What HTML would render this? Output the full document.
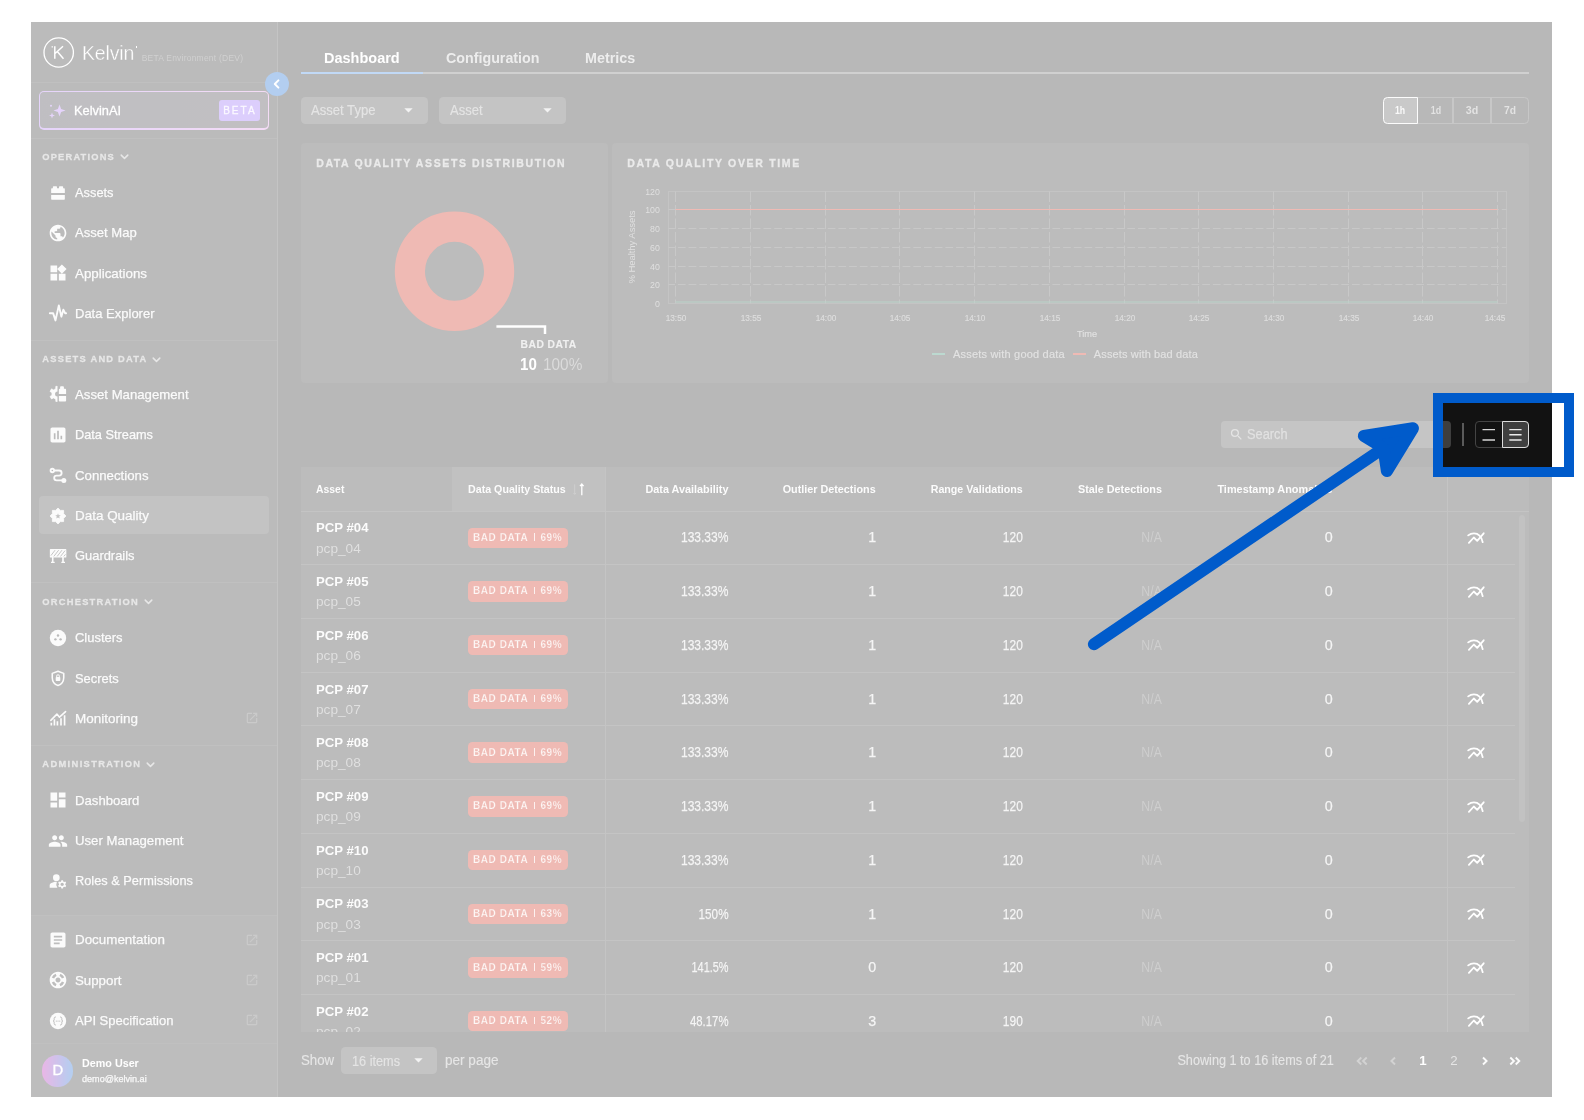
<!DOCTYPE html>
<html><head><meta charset="utf-8"><title>Data Quality</title>
<style>
html,body{margin:0;padding:0;background:#fff;}
body{width:1584px;height:1120px;position:relative;overflow:hidden;font-family:"Liberation Sans",sans-serif;}
#app{will-change:transform;position:absolute;left:0;top:0;width:1584px;height:1120px;clip-path:inset(22px 32px 23px 31px);background:#121212;}
.a{position:absolute;box-sizing:border-box;}
.t{position:absolute;white-space:nowrap;}
.ov{position:absolute;background:rgba(255,255,255,0.7);}
</style></head><body>
<div id="app">
<div class="a" style="left:31.00px;top:22.00px;width:246.50px;height:1075.00px;background:#1b1b1b;"></div>
<div class="a" style="left:276.80px;top:22.00px;width:1.00px;height:1075.00px;background:#393939;"></div>
<svg class="a" style="left:42px;top:36px" width="34" height="34" viewBox="0 0 34 34"><circle cx="16.700" cy="16.500" r="14.700" fill="none" stroke="#fff" stroke-width="1.300"/><path d="M12.800 10.300v12.500M12.800 17.800l8.200-7.500M15.300 15.600l6.200 7.200" fill="none" stroke="#fff" stroke-width="1.500"/><rect x="9.600" y="10.200" width="1.300" height="1.300" fill="#fff"/></svg>
<div class="t" style="top:38.20px;font-size:21px;line-height:29px;color:#fff;letter-spacing:-0.200px;left:82.30px;transform:scaleX(0.93);transform-origin:0 50%;-webkit-text-stroke:0.4px #1b1b1b;">Kelvin</div>
<div class="a" style="left:135.50px;top:46.40px;width:1.00px;height:1.20px;background:#fff;"></div>
<div class="t" style="top:51.50px;font-size:8.5px;line-height:12px;color:#666;letter-spacing:0.220px;left:141.70px;">BETA Environment (DEV)</div>
<div class="a" style="left:31.00px;top:82.00px;width:246.00px;height:1.00px;background:#2c2c2c;"></div>
<div class="a" style="left:38.50px;top:91.00px;width:230.50px;height:38.50px;border-radius:5px;background:linear-gradient(90deg,#a970f0,#d98ae0);"></div>
<div class="a" style="left:39.70px;top:92.20px;width:228.10px;height:36.10px;border-radius:4px;background:linear-gradient(100deg,#2b2734,#302a33);"></div>
<svg class="a" style="left:48px;top:102px" width="18" height="18" viewBox="0 0 18 18" fill="#a970f0"><path d="M11.500 2.500l1.600 4.400 4.400 1.600-4.400 1.600-1.600 4.400-1.600-4.400L5.500 8.500l4.400-1.600z"/><path d="M4 10.500l.800 2.200 2.200.800-2.200.800L4 16.500l-.800-2.200L1 13.500l2.200-.800z"/><circle cx="3" cy="3.800" r="1"/></svg>
<div class="t" style="top:100.80px;font-size:13.5px;line-height:19px;color:#fff;left:74.30px;transform-origin:0 50%;transform:scaleX(0.9489);-webkit-text-stroke:0.300px #fff;">KelvinAI</div>
<div class="a" style="left:219.20px;top:100.00px;width:40.40px;height:20.70px;background:#8b5cf6;border-radius:3px;"></div>
<div class="t" style="top:104.00px;font-size:10px;line-height:14px;color:#f1e9ff;letter-spacing:2.036px;left:239.92px;transform:translateX(-50%);-webkit-text-stroke:0.3px #f1e9ff;">BETA</div>
<div class="a" style="left:31.00px;top:137.50px;width:246.00px;height:1.00px;background:#2c2c2c;"></div>
<div class="a" style="left:265.00px;top:71.50px;width:24.00px;height:24.00px;background:#005bcb;border-radius:12px;"></div>
<svg class="a" style="left:271px;top:77.6px" width="12" height="12" viewBox="0 0 12 12"><path d="M7.4 2.4L3.8 6l3.600 3.600" fill="none" stroke="#fff" stroke-width="2" stroke-linecap="round" stroke-linejoin="round"/></svg>
<div class="t" style="top:150.50px;font-size:9.3px;line-height:13px;color:#b0b0b0;font-weight:700;letter-spacing:1.191px;left:42.30px;-webkit-text-stroke:0.3px #b0b0b0;">OPERATIONS</div>
<svg class="a" style="left:119.8px;top:153.1px" width="9" height="8" viewBox="0 0 9 8"><path d="M1.2 2.1l3.3 3.3 3.3-3.3" fill="none" stroke="#b0b0b0" stroke-width="1.5" stroke-linecap="round" stroke-linejoin="round"/></svg>
<svg class="a" style="left:47.90px;top:182.70px;color:#f2f2f2;" width="20" height="20" viewBox="0 0 24 24" fill="currentColor"><g transform="translate(12 12) scale(0.82) translate(-12 -12)"><path d="M2 14.8h20V20.800a1 1 0 0 1-1 1H3a1 1 0 0 1-1-1zM2 12V6.200a1 1 0 0 1 1-1h1.500V3a1 1 0 0 1 1-1h4a1 1 0 0 1 1 1v2.200h3V3a1 1 0 0 1 1-1h4a1 1 0 0 1 1 1v2.200H21a1 1 0 0 1 1 1V12z"/></g></svg>
<div class="t" style="top:182.80px;font-size:13.6px;line-height:19px;color:#f0f0f0;left:75.20px;transform-origin:0 50%;transform:scaleX(0.9437);-webkit-text-stroke:0.250px #f0f0f0;">Assets</div>
<svg class="a" style="left:47.90px;top:222.90px;color:#f2f2f2;" width="20" height="20" viewBox="0 0 24 24" fill="currentColor"><path d="M12 2C6.48 2 2 6.48 2 12s4.48 10 10 10 10-4.48 10-10S17.52 2 12 2zm-1 17.93c-3.95-.49-7-3.85-7-7.93 0-.62.08-1.21.21-1.79L9 15v1c0 1.1.9 2 2 2v1.93zm6.9-2.54c-.26-.81-1-1.39-1.9-1.39h-1v-3c0-.55-.45-1-1-1H8v-2h2c.55 0 1-.45 1-1V7h2c1.1 0 2-.9 2-2v-.41c2.93 1.19 5 4.06 5 7.41 0 2.08-.8 3.97-2.1 5.39z"/></svg>
<div class="t" style="top:223.00px;font-size:13.6px;line-height:19px;color:#f0f0f0;left:75.20px;transform-origin:0 50%;transform:scaleX(0.9623);-webkit-text-stroke:0.250px #f0f0f0;">Asset Map</div>
<svg class="a" style="left:47.90px;top:263.40px;color:#f2f2f2;" width="20" height="20" viewBox="0 0 24 24" fill="currentColor"><path d="M13 13v8h8v-8h-8zM3 21h8v-8H3v8zM3 3v8h8V3H3zm13.66-1.31L11 7.34 16.66 13l5.66-5.66-5.66-5.65z"/></svg>
<div class="t" style="top:263.50px;font-size:13.6px;line-height:19px;color:#f0f0f0;left:75.20px;transform-origin:0 50%;transform:scaleX(0.9821);-webkit-text-stroke:0.250px #f0f0f0;">Applications</div>
<svg class="a" style="left:47.90px;top:303.60px;color:#f2f2f2;" width="20" height="20" viewBox="0 0 24 24" fill="currentColor"><path d="M2.2 11H6.1L9 19.7L13 1.7L16 15.2L18.4 6.8L20.5 11H21.7" fill="none" stroke="currentColor" stroke-width="2.3" stroke-linejoin="round" stroke-linecap="round"/></svg>
<div class="t" style="top:303.70px;font-size:13.6px;line-height:19px;color:#f0f0f0;left:75.20px;transform-origin:0 50%;transform:scaleX(0.9566);-webkit-text-stroke:0.250px #f0f0f0;">Data Explorer</div>
<div class="a" style="left:31.00px;top:339.60px;width:246.00px;height:1.00px;background:#2c2c2c;"></div>
<div class="t" style="top:353.00px;font-size:9.3px;line-height:13px;color:#b0b0b0;font-weight:700;letter-spacing:1.242px;left:42.30px;-webkit-text-stroke:0.3px #b0b0b0;">ASSETS AND DATA</div>
<svg class="a" style="left:152.3px;top:355.6px" width="9" height="8" viewBox="0 0 9 8"><path d="M1.2 2.1l3.3 3.3 3.3-3.3" fill="none" stroke="#b0b0b0" stroke-width="1.5" stroke-linecap="round" stroke-linejoin="round"/></svg>
<svg class="a" style="left:47.90px;top:384.80px;color:#f2f2f2;" width="20" height="20" viewBox="0 0 24 24" fill="currentColor"><path d="M10.96 1.44L10.96 1.61L9.40 1.61L9.23 4.37L6.66 5.85L4.19 4.62L2.42 7.67L4.73 9.20L4.73 12.16L2.42 13.69L4.19 16.74L6.66 15.51L9.23 16.99L9.40 19.75L10.96 19.75L10.96 19.92Z" stroke="currentColor" stroke-width="0.800" stroke-linejoin="round"/><circle cx="11.46" cy="10.68" r="3" fill="#1b1b1b"/><path d="M14.52 4.62V2.64a1 1 0 0 1 1-1H18.08a1 1 0 0 1 1 1V4.62H20.72a1 1 0 0 1 1 1V10.92H13.02V5.62a1 1 0 0 1 1-1z"/><path d="M13.02 13.20H21.72V18.92a1 1 0 0 1-1 1H14.02a1 1 0 0 1-1-1z"/></svg>
<div class="t" style="top:384.90px;font-size:13.6px;line-height:19px;color:#f0f0f0;left:75.20px;transform-origin:0 50%;transform:scaleX(0.9699);-webkit-text-stroke:0.250px #f0f0f0;">Asset Management</div>
<svg class="a" style="left:47.90px;top:425.20px;color:#f2f2f2;" width="20" height="20" viewBox="0 0 24 24" fill="currentColor"><path d="M19 3H5c-1.1 0-2 .9-2 2v14c0 1.1.9 2 2 2h14c1.1 0 2-.9 2-2V5c0-1.1-.9-2-2-2zM9 17H7v-7h2v7zm4 0h-2V7h2v10zm4 0h-2v-4h2v4z"/></svg>
<div class="t" style="top:425.30px;font-size:13.6px;line-height:19px;color:#f0f0f0;left:75.20px;transform-origin:0 50%;transform:scaleX(0.9385);-webkit-text-stroke:0.250px #f0f0f0;">Data Streams</div>
<svg class="a" style="left:47.90px;top:465.60px;color:#f2f2f2;" width="20" height="20" viewBox="0 0 24 24" fill="currentColor"><g fill="none" stroke="currentColor" stroke-width="2.2" stroke-linecap="round"><circle cx="5.2" cy="5.4" r="2.1"/><path d="M8 5.4H13.3a3.050 3.050 0 0 1 0 6.1H10.3a2.850 2.850 0 0 0 0 5.7H17"/></g><circle cx="19" cy="17.3" r="3"/></svg>
<div class="t" style="top:465.70px;font-size:13.6px;line-height:19px;color:#f0f0f0;left:75.20px;transform-origin:0 50%;transform:scaleX(0.9725);-webkit-text-stroke:0.250px #f0f0f0;">Connections</div>
<div class="a" style="left:38.50px;top:496.40px;width:230.50px;height:38.00px;background:#363636;border-radius:4px;"></div>
<svg class="a" style="left:47.90px;top:505.80px;color:#f2f2f2;" width="20" height="20" viewBox="0 0 24 24" fill="currentColor"><path d="M12.00 2.50L14.79 5.26L18.72 5.28L18.74 9.21L21.50 12.00L18.74 14.79L18.72 18.72L14.79 18.74L12.00 21.50L9.21 18.74L5.28 18.72L5.26 14.79L2.50 12.00L5.26 9.21L5.28 5.28L9.21 5.26Z" stroke="currentColor" stroke-width="1" stroke-linejoin="round"/><path d="M12.00 8.70L12.88 10.99L15.33 11.12L13.43 12.66L14.06 15.03L12.00 13.70L9.94 15.03L10.57 12.66L8.67 11.12L11.12 10.99Z" fill="#363636"/></svg>
<div class="t" style="top:505.90px;font-size:13.6px;line-height:19px;color:#f0f0f0;left:75.20px;transform-origin:0 50%;transform:scaleX(0.9891);-webkit-text-stroke:0.250px #f0f0f0;">Data Quality</div>
<svg class="a" style="left:47.90px;top:546.00px;color:#f2f2f2;" width="20" height="20" viewBox="0 0 24 24" fill="currentColor"><path d="M3 3.700H21.2a.8.8 0 0 1 .8.8V13.100a.8.8 0 0 1-.8.8H3a.8.8 0 0 1-.8-.8V4.500a.8.8 0 0 1 .8-.8zM4.700 13.900H6.600V18.800H4.700zM17 13.900H19V18.800H17zM3.600 18.800H8V20.300H3.600zM16 18.800H20.400V20.300H16z"/><path d="M3.500 11.500l5-6.500M7 12.500l5.800-7.500M11 12.500l5.800-7.500M15 12.500l5.500-7M19 12.500l2-2.500" stroke="#1b1b1b" stroke-width="1" fill="none"/></svg>
<div class="t" style="top:546.10px;font-size:13.6px;line-height:19px;color:#f0f0f0;left:75.20px;transform-origin:0 50%;transform:scaleX(0.9487);-webkit-text-stroke:0.250px #f0f0f0;">Guardrails</div>
<div class="a" style="left:31.00px;top:582.20px;width:246.00px;height:1.00px;background:#2c2c2c;"></div>
<div class="t" style="top:595.70px;font-size:9.3px;line-height:13px;color:#b0b0b0;font-weight:700;letter-spacing:1.258px;left:42.30px;-webkit-text-stroke:0.3px #b0b0b0;">ORCHESTRATION</div>
<svg class="a" style="left:143.8px;top:598.3px" width="9" height="8" viewBox="0 0 9 8"><path d="M1.2 2.1l3.3 3.3 3.3-3.3" fill="none" stroke="#b0b0b0" stroke-width="1.5" stroke-linecap="round" stroke-linejoin="round"/></svg>
<svg class="a" style="left:47.90px;top:627.90px;color:#f2f2f2;" width="20" height="20" viewBox="0 0 24 24" fill="currentColor"><circle cx="12" cy="12" r="9.850"/><g fill="#1b1b1b"><circle cx="12" cy="8.900" r="1.450"/><circle cx="8.900" cy="13.600" r="1.450"/><circle cx="15.100" cy="13.600" r="1.450"/></g></svg>
<div class="t" style="top:628.00px;font-size:13.6px;line-height:19px;color:#f0f0f0;left:75.20px;transform-origin:0 50%;transform:scaleX(0.9527);-webkit-text-stroke:0.250px #f0f0f0;">Clusters</div>
<svg class="a" style="left:47.90px;top:668.40px;color:#f2f2f2;" width="20" height="20" viewBox="0 0 24 24" fill="currentColor"><g transform="translate(12 12.300) scale(0.860) translate(-12 -12)"><path d="M12 2.200L4 5.200v6.100c0 5 3.400 9.700 8 10.900 4.600-1.200 8-5.900 8-10.900V5.200z" fill="none" stroke="currentColor" stroke-width="2.200" stroke-linejoin="round"/><rect x="8.800" y="10.200" width="6.400" height="5.600" rx="1"/><path d="M10.200 10.500V9a1.800 1.800 0 0 1 3.600 0v1.500" fill="none" stroke="currentColor" stroke-width="1.400"/></g></svg>
<div class="t" style="top:668.50px;font-size:13.6px;line-height:19px;color:#f0f0f0;left:75.20px;transform-origin:0 50%;transform:scaleX(0.9481);-webkit-text-stroke:0.250px #f0f0f0;">Secrets</div>
<svg class="a" style="left:47.90px;top:708.70px;color:#f2f2f2;" width="20" height="20" viewBox="0 0 24 24" fill="currentColor"><path d="M3 16.600H5V19.700H3zM6.700 12.400H8.700V19.700H6.700zM10.300 14.800H12.300V19.700H10.300zM14.600 11.100H16.600V19.700H14.600zM18.900 7.400H20.900V19.700H18.900z"/><path d="M3.400 13.600L10.700 6.100L13.800 9.800L21.100 3.100" fill="none" stroke="currentColor" stroke-width="1.900" stroke-linecap="round" stroke-linejoin="round"/></svg>
<div class="t" style="top:708.80px;font-size:13.6px;line-height:19px;color:#f0f0f0;left:75.20px;transform-origin:0 50%;transform:scaleX(0.9926);-webkit-text-stroke:0.250px #f0f0f0;">Monitoring</div>
<svg class="a" style="left:245.00px;top:711.20px;color:#4f4f4f;" width="14" height="14" viewBox="0 0 24 24" fill="currentColor"><path d="M19 19H5V5h7V3H5a2 2 0 0 0-2 2v14a2 2 0 0 0 2 2h14c1.100 0 2-.900 2-2v-7h-2v7zM14 3v2h3.590l-9.830 9.830 1.410 1.410L19 6.410V10h2V3h-7z"/></svg>
<div class="a" style="left:31.00px;top:745.10px;width:246.00px;height:1.00px;background:#2c2c2c;"></div>
<div class="t" style="top:758.00px;font-size:9.3px;line-height:13px;color:#b0b0b0;font-weight:700;letter-spacing:1.378px;left:42.30px;-webkit-text-stroke:0.3px #b0b0b0;">ADMINISTRATION</div>
<svg class="a" style="left:146.1px;top:760.6px" width="9" height="8" viewBox="0 0 9 8"><path d="M1.2 2.1l3.3 3.3 3.3-3.3" fill="none" stroke="#b0b0b0" stroke-width="1.5" stroke-linecap="round" stroke-linejoin="round"/></svg>
<svg class="a" style="left:47.90px;top:790.40px;color:#f2f2f2;" width="20" height="20" viewBox="0 0 24 24" fill="currentColor"><path d="M3 13h8V3H3v10zm0 8h8v-6H3v6zm10 0h8V11h-8v10zm0-18v6h8V3h-8z"/></svg>
<div class="t" style="top:790.50px;font-size:13.6px;line-height:19px;color:#f0f0f0;left:75.20px;transform-origin:0 50%;transform:scaleX(0.9682);-webkit-text-stroke:0.250px #f0f0f0;">Dashboard</div>
<svg class="a" style="left:47.90px;top:830.60px;color:#f2f2f2;" width="20" height="20" viewBox="0 0 24 24" fill="currentColor"><path d="M16 11c1.660 0 2.990-1.340 2.990-3S17.660 5 16 5c-1.660 0-3 1.340-3 3s1.340 3 3 3zm-8 0c1.660 0 2.990-1.340 2.990-3S9.660 5 8 5C6.340 5 5 6.340 5 8s1.340 3 3 3zm0 2c-2.330 0-7 1.170-7 3.500V19h14v-2.500c0-2.330-4.670-3.500-7-3.500zm8 0c-.290 0-.620.020-.970.050 1.160.840 1.970 1.970 1.970 3.450V19h6v-2.500c0-2.330-4.670-3.500-7-3.500z"/></svg>
<div class="t" style="top:830.70px;font-size:13.6px;line-height:19px;color:#f0f0f0;left:75.20px;transform-origin:0 50%;transform:scaleX(0.9702);-webkit-text-stroke:0.250px #f0f0f0;">User Management</div>
<svg class="a" style="left:47.90px;top:870.80px;color:#f2f2f2;" width="20" height="20" viewBox="0 0 24 24" fill="currentColor"><circle cx="10" cy="8" r="4"/><path d="M10.670 13.020C10.450 13.010 10.230 13 10 13c-2.420 0-4.680.670-6.610 1.820-.880.520-1.390 1.500-1.390 2.530V20h9.260a6.963 6.963 0 0 1-.590-6.980z"/><path d="M20.750 16c0-.220-.030-.420-.060-.630l1.140-1.010-1-1.730-1.450.490c-.320-.270-.680-.480-1.080-.630L18 11h-2l-.300 1.490c-.400.150-.760.360-1.080.630l-1.450-.490-1 1.730 1.140 1.010c-.030.210-.060.410-.060.630s.030.420.060.630l-1.140 1.010 1 1.730 1.450-.490c.320.270.680.480 1.080.630L16 21h2l.300-1.490c.400-.150.760-.360 1.080-.630l1.450.490 1-1.730-1.140-1.010c.030-.210.060-.410.060-.630zM17 18c-1.100 0-2-.900-2-2s.900-2 2-2 2 .900 2 2-.900 2-2 2z"/></svg>
<div class="t" style="top:870.90px;font-size:13.6px;line-height:19px;color:#f0f0f0;left:75.20px;transform-origin:0 50%;transform:scaleX(0.9409);-webkit-text-stroke:0.250px #f0f0f0;">Roles &amp; Permissions</div>
<div class="a" style="left:31.00px;top:915.30px;width:246.00px;height:181.70px;background:#242424;"></div>
<div class="a" style="left:31.00px;top:915.30px;width:246.00px;height:1.00px;background:#2c2c2c;"></div>
<svg class="a" style="left:47.90px;top:930.10px;color:#f2f2f2;" width="20" height="20" viewBox="0 0 24 24" fill="currentColor"><path d="M19 3H5c-1.100 0-2 .900-2 2v14c0 1.100.900 2 2 2h14c1.100 0 2-.900 2-2V5c0-1.100-.900-2-2-2zm-5 14H7v-2h7v2zm3-4H7v-2h10v2zm0-4H7V7h10v2z"/></svg>
<div class="t" style="top:930.20px;font-size:13.6px;line-height:19px;color:#f0f0f0;left:75.20px;transform-origin:0 50%;transform:scaleX(0.9843);-webkit-text-stroke:0.250px #f0f0f0;">Documentation</div>
<svg class="a" style="left:245.00px;top:932.60px;color:#4f4f4f;" width="14" height="14" viewBox="0 0 24 24" fill="currentColor"><path d="M19 19H5V5h7V3H5a2 2 0 0 0-2 2v14a2 2 0 0 0 2 2h14c1.100 0 2-.900 2-2v-7h-2v7zM14 3v2h3.590l-9.830 9.830 1.410 1.410L19 6.410V10h2V3h-7z"/></svg>
<svg class="a" style="left:47.90px;top:970.40px;color:#f2f2f2;" width="20" height="20" viewBox="0 0 24 24" fill="currentColor"><path d="M12 2C6.480 2 2 6.480 2 12s4.480 10 10 10 10-4.480 10-10S17.520 2 12 2zm7.460 7.120l-2.780 1.150a4.982 4.982 0 0 0-2.950-2.940l1.150-2.780c2.100.800 3.770 2.470 4.580 4.570zM12 15c-1.660 0-3-1.340-3-3s1.340-3 3-3 3 1.340 3 3-1.340 3-3 3zM9.130 4.540l1.170 2.780a5 5 0 0 0-2.980 2.970L4.540 9.130a7.984 7.984 0 0 1 4.590-4.590zM4.540 14.870l2.780-1.150a4.968 4.968 0 0 0 2.970 2.960l-1.170 2.780a7.996 7.996 0 0 1-4.580-4.590zm10.340 4.590l-1.150-2.780a4.978 4.978 0 0 0 2.950-2.970l2.780 1.170a8.007 8.007 0 0 1-4.580 4.580z"/></svg>
<div class="t" style="top:970.50px;font-size:13.6px;line-height:19px;color:#f0f0f0;left:75.20px;transform-origin:0 50%;transform:scaleX(0.9764);-webkit-text-stroke:0.250px #f0f0f0;">Support</div>
<svg class="a" style="left:245.00px;top:972.90px;color:#4f4f4f;" width="14" height="14" viewBox="0 0 24 24" fill="currentColor"><path d="M19 19H5V5h7V3H5a2 2 0 0 0-2 2v14a2 2 0 0 0 2 2h14c1.100 0 2-.900 2-2v-7h-2v7zM14 3v2h3.590l-9.830 9.830 1.410 1.410L19 6.410V10h2V3h-7z"/></svg>
<svg class="a" style="left:47.90px;top:1010.90px;color:#f2f2f2;" width="20" height="20" viewBox="0 0 24 24" fill="currentColor"><circle cx="12" cy="12" r="9.850"/><g fill="none" stroke="#242424" stroke-width="1.200" stroke-linecap="round" stroke-linejoin="round"><path d="M9 7.200C7.600 7.200 7.400 8 7.400 9.200V10.600C7.400 11.500 6.900 12 6.200 12C6.900 12 7.400 12.500 7.400 13.400V14.800C7.400 16 7.600 16.800 9 16.800"/><path d="M15 7.200C16.400 7.200 16.600 8 16.600 9.200V10.600C16.600 11.500 17.100 12 17.800 12C17.100 12 16.600 12.500 16.600 13.400V14.800C16.600 16 16.400 16.800 15 16.800"/></g><g fill="#242424"><circle cx="9.900" cy="12" r=".75"/><circle cx="12" cy="12" r=".75"/><circle cx="14.100" cy="12" r=".75"/></g></svg>
<div class="t" style="top:1011.00px;font-size:13.6px;line-height:19px;color:#f0f0f0;left:75.20px;transform-origin:0 50%;transform:scaleX(0.9585);-webkit-text-stroke:0.250px #f0f0f0;">API Specification</div>
<svg class="a" style="left:245.00px;top:1013.40px;color:#4f4f4f;" width="14" height="14" viewBox="0 0 24 24" fill="currentColor"><path d="M19 19H5V5h7V3H5a2 2 0 0 0-2 2v14a2 2 0 0 0 2 2h14c1.100 0 2-.900 2-2v-7h-2v7zM14 3v2h3.590l-9.830 9.830 1.410 1.410L19 6.410V10h2V3h-7z"/></svg>
<div class="a" style="left:31.00px;top:1042.80px;width:246.00px;height:1.00px;background:#2c2c2c;"></div>
<div class="a" style="left:42.10px;top:1055.20px;width:31.20px;height:31.40px;border-radius:16px;background:linear-gradient(90deg,#ad10ad 5%,#0a5acc 95%);"></div>
<div class="t" style="top:1059.90px;font-size:14.8px;line-height:21px;color:#fff;left:57.80px;transform:translateX(-50%);-webkit-text-stroke:0.35px #fff;">D</div>
<div class="t" style="top:1054.50px;font-size:11.5px;line-height:16px;color:#fff;font-weight:700;left:81.50px;transform-origin:0 50%;transform:scaleX(0.9355);">Demo User</div>
<div class="t" style="top:1072.30px;font-size:9.8px;line-height:14px;color:#ececec;left:81.50px;transform-origin:0 50%;transform:scaleX(0.9261);-webkit-text-stroke:0.25px #ececec;">demo@kelvin.ai</div>
<div class="t" style="top:46.80px;font-size:15px;line-height:21px;color:#fff;font-weight:700;left:323.70px;transform-origin:0 50%;transform:scaleX(0.9661);">Dashboard</div>
<div class="t" style="top:46.80px;font-size:15px;line-height:21px;color:#c4c4c4;font-weight:700;left:445.50px;transform-origin:0 50%;transform:scaleX(0.9509);">Configuration</div>
<div class="t" style="top:46.80px;font-size:15px;line-height:21px;color:#c4c4c4;font-weight:700;left:585.00px;transform-origin:0 50%;transform:scaleX(0.9556);">Metrics</div>
<div class="a" style="left:301.00px;top:72.40px;width:1228.00px;height:1.20px;background:#626262;"></div>
<div class="a" style="left:301.00px;top:72.00px;width:122.00px;height:2.00px;background:#2f7fe0;"></div>
<div class="a" style="left:301.00px;top:96.60px;width:126.50px;height:27.30px;background:#3a3a3a;border-radius:4.5px;"></div>
<div class="t" style="top:100.45px;font-size:14px;line-height:20px;color:#a6a6a6;left:311.40px;transform-origin:0 50%;transform:scaleX(0.9346);-webkit-text-stroke:0.2px #a6a6a6;">Asset Type</div>
<svg class="a" style="left:404.4px;top:108.0px" width="9" height="5" viewBox="0 0 9 5"><path d="M0.300 0.300h8.400L4.500 4.600z" fill="#d8d8d8"/></svg>
<div class="a" style="left:439.20px;top:96.60px;width:126.60px;height:27.30px;background:#3a3a3a;border-radius:4.5px;"></div>
<div class="t" style="top:100.45px;font-size:14px;line-height:20px;color:#a6a6a6;left:449.60px;transform-origin:0 50%;transform:scaleX(0.9282);-webkit-text-stroke:0.2px #a6a6a6;">Asset</div>
<svg class="a" style="left:542.7px;top:108.0px" width="9" height="5" viewBox="0 0 9 5"><path d="M0.300 0.300h8.400L4.500 4.600z" fill="#d8d8d8"/></svg>
<div class="a" style="left:1383.00px;top:97.20px;width:146.00px;height:26.50px;border-radius:4.5px;border:1px solid #434343;"></div>
<div class="a" style="left:1452.40px;top:97.20px;width:1.40px;height:26.50px;background:#434343;"></div>
<div class="a" style="left:1490.40px;top:97.20px;width:1.40px;height:26.50px;background:#434343;"></div>
<div class="a" style="left:1383.00px;top:97.20px;width:35.00px;height:26.50px;background:#4a4a4a;border-radius:4px;border:1.3px solid #f4f4f4;border-radius:4.5px 0 0 4.5px;"></div>
<div class="t" style="top:103.20px;font-size:11px;line-height:15px;color:#ececec;font-weight:700;left:1400.20px;transform:translateX(-50%) scaleX(0.7942);">1h</div>
<div class="t" style="top:103.20px;font-size:11px;line-height:15px;color:#a2a2a2;font-weight:700;left:1435.60px;transform:translateX(-50%) scaleX(0.8097);">1d</div>
<div class="t" style="top:103.20px;font-size:11px;line-height:15px;color:#a2a2a2;font-weight:700;left:1472.20px;transform:translateX(-50%) scaleX(0.9732);">3d</div>
<div class="t" style="top:103.20px;font-size:11px;line-height:15px;color:#a2a2a2;font-weight:700;left:1510.00px;transform:translateX(-50%) scaleX(0.9343);">7d</div>
<div class="a" style="left:301.00px;top:143.00px;width:307.00px;height:240.00px;background:#1e1e1e;border-radius:4px;"></div>
<div class="a" style="left:612.00px;top:143.00px;width:917.00px;height:240.00px;background:#1e1e1e;border-radius:4px;"></div>
<div class="t" style="top:155.70px;font-size:10.5px;line-height:15px;color:#bababa;font-weight:700;letter-spacing:1.621px;left:316.20px;-webkit-text-stroke:0.35px #bababa;">DATA QUALITY ASSETS DISTRIBUTION</div>
<div class="t" style="top:155.70px;font-size:10.5px;line-height:15px;color:#bababa;font-weight:700;letter-spacing:1.681px;left:627.30px;-webkit-text-stroke:0.35px #bababa;">DATA QUALITY OVER TIME</div>
<svg class="a" style="left:390px;top:207px" width="130" height="130" viewBox="0 0 130 130"><circle cx="64.500" cy="64.300" r="44.600" fill="none" stroke="#c81804" stroke-width="30.200"/></svg>
<svg class="a" style="left:494px;top:322px" width="56" height="16" viewBox="0 0 56 16"><path d="M2.400 4.400H51V11.900" fill="none" stroke="#fff" stroke-width="2.500"/></svg>
<div class="t" style="top:338.20px;font-size:10.3px;line-height:14px;color:#cdcdcd;font-weight:700;letter-spacing:0.464px;left:520.60px;-webkit-text-stroke:0.2px #cdcdcd;">BAD DATA</div>
<div class="t" style="top:353.50px;font-size:16px;line-height:22px;color:#fff;font-weight:700;left:520.40px;transform-origin:0 50%;transform:scaleX(0.9440);">10</div>
<div class="t" style="top:353.50px;font-size:16px;line-height:22px;color:#868686;left:542.80px;transform-origin:0 50%;transform:scaleX(0.9604);">100%</div>
<svg class="a" style="left:0;top:0" width="1584" height="1120" viewBox="0 0 1584 1120"><rect x="668.5" y="191.5" width="838.0" height="112.0" fill="none" stroke="#3a3a3a" stroke-width="1"/><path d="M668.5 209.5H1506.5" stroke="#464646" stroke-width="1" stroke-dasharray="7.8 2.9" stroke-dashoffset="1.34" fill="none"/><path d="M668.5 228.5H1506.5" stroke="#464646" stroke-width="1" stroke-dasharray="7.8 2.9" stroke-dashoffset="1.34" fill="none"/><path d="M668.5 247.5H1506.5" stroke="#464646" stroke-width="1" stroke-dasharray="7.8 2.9" stroke-dashoffset="1.34" fill="none"/><path d="M668.5 266.5H1506.5" stroke="#464646" stroke-width="1" stroke-dasharray="7.8 2.9" stroke-dashoffset="1.34" fill="none"/><path d="M668.5 284.5H1506.5" stroke="#464646" stroke-width="1" stroke-dasharray="7.8 2.9" stroke-dashoffset="1.34" fill="none"/><path d="M675.5 191.5V303.5" stroke="#464646" stroke-width="1" stroke-dasharray="10.5 3" fill="none"/><path d="M750.5 191.5V303.5" stroke="#464646" stroke-width="1" stroke-dasharray="10.5 3" fill="none"/><path d="M825.5 191.5V303.5" stroke="#464646" stroke-width="1" stroke-dasharray="10.5 3" fill="none"/><path d="M899.5 191.5V303.5" stroke="#464646" stroke-width="1" stroke-dasharray="10.5 3" fill="none"/><path d="M974.5 191.5V303.5" stroke="#464646" stroke-width="1" stroke-dasharray="10.5 3" fill="none"/><path d="M1049.5 191.5V303.5" stroke="#464646" stroke-width="1" stroke-dasharray="10.5 3" fill="none"/><path d="M1124.5 191.5V303.5" stroke="#464646" stroke-width="1" stroke-dasharray="10.5 3" fill="none"/><path d="M1198.5 191.5V303.5" stroke="#464646" stroke-width="1" stroke-dasharray="10.5 3" fill="none"/><path d="M1273.5 191.5V303.5" stroke="#464646" stroke-width="1" stroke-dasharray="10.5 3" fill="none"/><path d="M1348.5 191.5V303.5" stroke="#464646" stroke-width="1" stroke-dasharray="10.5 3" fill="none"/><path d="M1422.5 191.5V303.5" stroke="#464646" stroke-width="1" stroke-dasharray="10.5 3" fill="none"/><path d="M1497.5 191.5V303.5" stroke="#464646" stroke-width="1" stroke-dasharray="10.5 3" fill="none"/><path d="M675.5 209.5H1497.5" stroke="#c81804" stroke-width="1.1" fill="none"/><path d="M675.5 302.0H1497.5" stroke="#1b6e52" stroke-width="1" fill="none"/></svg>
<div class="t" style="top:186.00px;font-size:8.8px;line-height:12px;color:#9a9a9a;right:924.10px;">120</div>
<div class="t" style="top:204.00px;font-size:8.8px;line-height:12px;color:#9a9a9a;right:924.10px;">100</div>
<div class="t" style="top:223.00px;font-size:8.8px;line-height:12px;color:#9a9a9a;right:924.10px;">80</div>
<div class="t" style="top:242.00px;font-size:8.8px;line-height:12px;color:#9a9a9a;right:924.10px;">60</div>
<div class="t" style="top:261.00px;font-size:8.8px;line-height:12px;color:#9a9a9a;right:924.10px;">40</div>
<div class="t" style="top:279.00px;font-size:8.8px;line-height:12px;color:#9a9a9a;right:924.10px;">20</div>
<div class="t" style="top:298.00px;font-size:8.8px;line-height:12px;color:#9a9a9a;right:924.10px;">0</div>
<div class="t" style="top:310.70px;font-size:9.5px;line-height:13px;color:#909090;left:675.70px;transform:translateX(-50%);transform:translateX(-50%) scaleX(0.87);-webkit-text-stroke:0.2px #909090;">13:50</div>
<div class="t" style="top:310.70px;font-size:9.5px;line-height:13px;color:#909090;left:750.70px;transform:translateX(-50%);transform:translateX(-50%) scaleX(0.87);-webkit-text-stroke:0.2px #909090;">13:55</div>
<div class="t" style="top:310.70px;font-size:9.5px;line-height:13px;color:#909090;left:825.70px;transform:translateX(-50%);transform:translateX(-50%) scaleX(0.87);-webkit-text-stroke:0.2px #909090;">14:00</div>
<div class="t" style="top:310.70px;font-size:9.5px;line-height:13px;color:#909090;left:899.70px;transform:translateX(-50%);transform:translateX(-50%) scaleX(0.87);-webkit-text-stroke:0.2px #909090;">14:05</div>
<div class="t" style="top:310.70px;font-size:9.5px;line-height:13px;color:#909090;left:974.70px;transform:translateX(-50%);transform:translateX(-50%) scaleX(0.87);-webkit-text-stroke:0.2px #909090;">14:10</div>
<div class="t" style="top:310.70px;font-size:9.5px;line-height:13px;color:#909090;left:1049.70px;transform:translateX(-50%);transform:translateX(-50%) scaleX(0.87);-webkit-text-stroke:0.2px #909090;">14:15</div>
<div class="t" style="top:310.70px;font-size:9.5px;line-height:13px;color:#909090;left:1124.70px;transform:translateX(-50%);transform:translateX(-50%) scaleX(0.87);-webkit-text-stroke:0.2px #909090;">14:20</div>
<div class="t" style="top:310.70px;font-size:9.5px;line-height:13px;color:#909090;left:1198.70px;transform:translateX(-50%);transform:translateX(-50%) scaleX(0.87);-webkit-text-stroke:0.2px #909090;">14:25</div>
<div class="t" style="top:310.70px;font-size:9.5px;line-height:13px;color:#909090;left:1273.70px;transform:translateX(-50%);transform:translateX(-50%) scaleX(0.87);-webkit-text-stroke:0.2px #909090;">14:30</div>
<div class="t" style="top:310.70px;font-size:9.5px;line-height:13px;color:#909090;left:1348.70px;transform:translateX(-50%);transform:translateX(-50%) scaleX(0.87);-webkit-text-stroke:0.2px #909090;">14:35</div>
<div class="t" style="top:310.70px;font-size:9.5px;line-height:13px;color:#909090;left:1422.70px;transform:translateX(-50%);transform:translateX(-50%) scaleX(0.87);-webkit-text-stroke:0.2px #909090;">14:40</div>
<div class="t" style="top:310.70px;font-size:9.5px;line-height:13px;color:#909090;left:1494.70px;transform:translateX(-50%);transform:translateX(-50%) scaleX(0.87);-webkit-text-stroke:0.2px #909090;">14:45</div>
<div class="t" style="top:327.00px;font-size:9.8px;line-height:14px;color:#a0a0a0;left:1086.60px;transform:translateX(-50%);transform:translateX(-50%) scaleX(0.94);-webkit-text-stroke:0.2px #a0a0a0;">Time</div>
<div class="t" id="yl" style="left:631.900px;top:246.800px;font-size:9.600px;line-height:12px;color:#9a9a9a;transform:translate(-50%,-50%) rotate(-90deg);letter-spacing:-0.100px;">% Healthy Assets</div>
<div class="a" style="left:931.80px;top:353.30px;width:13.30px;height:1.70px;background:#1f7f62;"></div>
<div class="t" style="top:347.10px;font-size:11px;line-height:15px;color:#a0a0a0;letter-spacing:0.199px;left:953.00px;-webkit-text-stroke:0.2px #a0a0a0;">Assets with good data</div>
<div class="a" style="left:1072.80px;top:353.30px;width:12.90px;height:1.70px;background:#c81804;"></div>
<div class="t" style="top:347.10px;font-size:11px;line-height:15px;color:#a0a0a0;letter-spacing:0.136px;left:1093.80px;-webkit-text-stroke:0.2px #a0a0a0;">Assets with bad data</div>
<div class="a" style="left:1220.70px;top:421.20px;width:230.30px;height:26.80px;background:#3e3e3e;border-radius:4px;"></div>
<svg class="a" style="left:1229.40px;top:427.40px;color:#a4a4a4;" width="15" height="15" viewBox="0 0 24 24" fill="currentColor"><path d="M15.500 14h-.790l-.280-.270A6.471 6.471 0 0 0 16 9.500 6.500 6.500 0 1 0 9.500 16c1.610 0 3.090-.590 4.230-1.570l.270.280v.790l5 4.990L20.490 19l-4.990-5zm-6 0C7.010 14 5 11.990 5 9.500S7.010 5 9.500 5 14 7.010 14 9.500 11.990 14 9.500 14z"/></svg>
<div class="t" style="top:425.30px;font-size:13.8px;line-height:19px;color:#9c9c9c;left:1246.80px;transform-origin:0 50%;transform:scaleX(0.9264);-webkit-text-stroke:0.25px #9c9c9c;">Search</div>
<div class="a" style="left:1462.20px;top:423.00px;width:1.50px;height:23.30px;background:#5a5a5a;"></div>
<div class="a" style="left:1475.20px;top:421.00px;width:53.80px;height:27.40px;border-radius:4px;border:1px solid #444;"></div>
<div class="a" style="left:1501.50px;top:421.00px;width:27.50px;height:27.40px;background:#3f3f3f;border-radius:4px;border:1px solid #dcdcdc;border-radius:0 4px 4px 0;"></div>
<svg class="a" style="left:1475px;top:421px" width="54" height="28" viewBox="0 0 54 28"><path d="M7.500 8.600H20M7.500 19H20" stroke="#d6d6d6" stroke-width="1.400"/><path d="M34.300 8.600H46.600M34.300 13.800H46.600M34.300 19H46.600" stroke="#ececec" stroke-width="1.400"/></svg>
<div class="a" style="left:301.00px;top:467.00px;width:1228.00px;height:565.00px;background:#1e1e1e;"></div>
<div class="a" style="left:452.00px;top:467.00px;width:153.60px;height:44.00px;background:#2f2f2f;"></div>
<div class="a" style="left:301px;top:467px;width:1228px;height:565px;overflow:hidden;">
<div class="a" style="left:-301px;top:-467px;width:1584px;height:1120px;">
<div class="a" style="left:301.00px;top:510.50px;width:1228.00px;height:1.00px;background:#393939;"></div>
<div class="t" style="top:481.40px;font-size:11.7px;line-height:16px;color:#f4f4f4;font-weight:700;left:316.20px;transform-origin:0 50%;transform:scaleX(0.8919);">Asset</div>
<div class="t" style="top:481.40px;font-size:11.7px;line-height:16px;color:#f4f4f4;font-weight:700;left:468.00px;transform-origin:0 50%;transform:scaleX(0.9126);">Data Quality Status</div>
<svg class="a" style="left:570px;top:480px" width="18" height="20" viewBox="0 0 18 20"><path d="M4.700 4.300v10M3.400 12.900l1.300 1.500 1.300-1.500" fill="none" stroke="#5e5e5e" stroke-width="1"/><path d="M11.800 15.200v-11M10 6.200l1.800-2.200 1.800 2.200" fill="none" stroke="#fff" stroke-width="1.300"/></svg>
<div class="t" style="top:481.40px;font-size:11.7px;line-height:16px;color:#f4f4f4;font-weight:700;right:855.70px;transform-origin:100% 50%;transform:scaleX(0.9282);">Data Availability</div>
<div class="t" style="top:481.40px;font-size:11.7px;line-height:16px;color:#f4f4f4;font-weight:700;right:708.30px;transform-origin:100% 50%;transform:scaleX(0.9238);">Outlier Detections</div>
<div class="t" style="top:481.40px;font-size:11.7px;line-height:16px;color:#f4f4f4;font-weight:700;right:561.60px;transform-origin:100% 50%;transform:scaleX(0.9139);">Range Validations</div>
<div class="t" style="top:481.40px;font-size:11.7px;line-height:16px;color:#f4f4f4;font-weight:700;right:422.10px;transform-origin:100% 50%;transform:scaleX(0.9237);">Stale Detections</div>
<div class="t" style="top:481.40px;font-size:11.7px;line-height:16px;color:#f4f4f4;font-weight:700;right:251.70px;transform-origin:100% 50%;transform:scaleX(0.9318);">Timestamp Anomalies</div>
<div class="t" style="top:518.40px;font-size:13.7px;line-height:19px;color:#f4f4f4;font-weight:700;left:316.40px;transform-origin:0 50%;transform:scaleX(0.9625);">PCP #04</div>
<div class="t" style="top:538.60px;font-size:13.7px;line-height:19px;color:#979797;left:316.40px;transform-origin:0 50%;transform:scaleX(0.9976);">pcp_04</div>
<div class="a" style="left:467.90px;top:527.56px;width:100.00px;height:20.40px;background:#c81804;border-radius:4.5px;"></div>
<div class="t" style="top:530.76px;font-size:10px;line-height:14px;color:#f8e6e2;font-weight:700;letter-spacing:0.567px;left:473.00px;-webkit-text-stroke:0.25px #c81804;">BAD DATA</div>
<div class="a" style="left:533.60px;top:533.36px;width:1.00px;height:7.40px;background:#f3cfc9;"></div>
<div class="t" style="top:530.76px;font-size:10px;line-height:14px;color:#f8e6e2;font-weight:700;letter-spacing:0.592px;left:540.40px;-webkit-text-stroke:0.25px #c81804;">69%</div>
<div class="t" style="top:527.46px;font-size:14.3px;line-height:20px;color:#dedede;right:855.20px;transform-origin:100% 50%;transform:scaleX(0.8414);-webkit-text-stroke:0.25px #dedede;">133.33%</div>
<div class="t" style="top:527.46px;font-size:14.3px;line-height:20px;color:#dedede;right:707.70px;-webkit-text-stroke:0.25px #dedede;">1</div>
<div class="t" style="top:527.46px;font-size:14.3px;line-height:20px;color:#dedede;right:561.10px;transform-origin:100% 50%;transform:scaleX(0.8382);-webkit-text-stroke:0.25px #dedede;">120</div>
<div class="t" style="top:527.46px;font-size:14.3px;line-height:20px;color:#5c5c5c;right:421.70px;transform-origin:100% 50%;transform:scaleX(0.8598);">N/A</div>
<div class="t" style="top:527.46px;font-size:14.3px;line-height:20px;color:#dedede;right:251.40px;-webkit-text-stroke:0.25px #dedede;">0</div>
<svg class="a" style="left:1465px;top:527.96px" width="22" height="20" viewBox="0 0 22 20"><g fill="none" stroke="#fff" stroke-width="1.8" stroke-linecap="round" stroke-linejoin="round"><path d="M3.2 7.4C6.5 4.800 11.5 4.600 14.5 7.600C16.3 9.400 17.2 11.800 17.700 14.2"/><path d="M3.900 14.800L8.800 9.500L12.2 12.900L18.700 5.300"/></g></svg>
<div class="a" style="left:301.00px;top:564.22px;width:1214.00px;height:1.00px;background:#393939;"></div>
<div class="t" style="top:572.12px;font-size:13.7px;line-height:19px;color:#f4f4f4;font-weight:700;left:316.40px;transform-origin:0 50%;transform:scaleX(0.9625);">PCP #05</div>
<div class="t" style="top:592.32px;font-size:13.7px;line-height:19px;color:#979797;left:316.40px;transform-origin:0 50%;transform:scaleX(0.9976);">pcp_05</div>
<div class="a" style="left:467.90px;top:581.28px;width:100.00px;height:20.40px;background:#c81804;border-radius:4.5px;"></div>
<div class="t" style="top:584.48px;font-size:10px;line-height:14px;color:#f8e6e2;font-weight:700;letter-spacing:0.567px;left:473.00px;-webkit-text-stroke:0.25px #c81804;">BAD DATA</div>
<div class="a" style="left:533.60px;top:587.08px;width:1.00px;height:7.40px;background:#f3cfc9;"></div>
<div class="t" style="top:584.48px;font-size:10px;line-height:14px;color:#f8e6e2;font-weight:700;letter-spacing:0.592px;left:540.40px;-webkit-text-stroke:0.25px #c81804;">69%</div>
<div class="t" style="top:581.18px;font-size:14.3px;line-height:20px;color:#dedede;right:855.20px;transform-origin:100% 50%;transform:scaleX(0.8414);-webkit-text-stroke:0.25px #dedede;">133.33%</div>
<div class="t" style="top:581.18px;font-size:14.3px;line-height:20px;color:#dedede;right:707.70px;-webkit-text-stroke:0.25px #dedede;">1</div>
<div class="t" style="top:581.18px;font-size:14.3px;line-height:20px;color:#dedede;right:561.10px;transform-origin:100% 50%;transform:scaleX(0.8382);-webkit-text-stroke:0.25px #dedede;">120</div>
<div class="t" style="top:581.18px;font-size:14.3px;line-height:20px;color:#5c5c5c;right:421.70px;transform-origin:100% 50%;transform:scaleX(0.8598);">N/A</div>
<div class="t" style="top:581.18px;font-size:14.3px;line-height:20px;color:#dedede;right:251.40px;-webkit-text-stroke:0.25px #dedede;">0</div>
<svg class="a" style="left:1465px;top:581.68px" width="22" height="20" viewBox="0 0 22 20"><g fill="none" stroke="#fff" stroke-width="1.8" stroke-linecap="round" stroke-linejoin="round"><path d="M3.2 7.4C6.5 4.800 11.5 4.600 14.5 7.600C16.3 9.400 17.2 11.800 17.700 14.2"/><path d="M3.900 14.800L8.800 9.500L12.2 12.900L18.700 5.300"/></g></svg>
<div class="a" style="left:301.00px;top:617.94px;width:1214.00px;height:1.00px;background:#393939;"></div>
<div class="t" style="top:625.84px;font-size:13.7px;line-height:19px;color:#f4f4f4;font-weight:700;left:316.40px;transform-origin:0 50%;transform:scaleX(0.9625);">PCP #06</div>
<div class="t" style="top:646.04px;font-size:13.7px;line-height:19px;color:#979797;left:316.40px;transform-origin:0 50%;transform:scaleX(0.9976);">pcp_06</div>
<div class="a" style="left:467.90px;top:635.00px;width:100.00px;height:20.40px;background:#c81804;border-radius:4.5px;"></div>
<div class="t" style="top:638.20px;font-size:10px;line-height:14px;color:#f8e6e2;font-weight:700;letter-spacing:0.567px;left:473.00px;-webkit-text-stroke:0.25px #c81804;">BAD DATA</div>
<div class="a" style="left:533.60px;top:640.80px;width:1.00px;height:7.40px;background:#f3cfc9;"></div>
<div class="t" style="top:638.20px;font-size:10px;line-height:14px;color:#f8e6e2;font-weight:700;letter-spacing:0.592px;left:540.40px;-webkit-text-stroke:0.25px #c81804;">69%</div>
<div class="t" style="top:634.90px;font-size:14.3px;line-height:20px;color:#dedede;right:855.20px;transform-origin:100% 50%;transform:scaleX(0.8414);-webkit-text-stroke:0.25px #dedede;">133.33%</div>
<div class="t" style="top:634.90px;font-size:14.3px;line-height:20px;color:#dedede;right:707.70px;-webkit-text-stroke:0.25px #dedede;">1</div>
<div class="t" style="top:634.90px;font-size:14.3px;line-height:20px;color:#dedede;right:561.10px;transform-origin:100% 50%;transform:scaleX(0.8382);-webkit-text-stroke:0.25px #dedede;">120</div>
<div class="t" style="top:634.90px;font-size:14.3px;line-height:20px;color:#5c5c5c;right:421.70px;transform-origin:100% 50%;transform:scaleX(0.8598);">N/A</div>
<div class="t" style="top:634.90px;font-size:14.3px;line-height:20px;color:#dedede;right:251.40px;-webkit-text-stroke:0.25px #dedede;">0</div>
<svg class="a" style="left:1465px;top:635.40px" width="22" height="20" viewBox="0 0 22 20"><g fill="none" stroke="#fff" stroke-width="1.8" stroke-linecap="round" stroke-linejoin="round"><path d="M3.2 7.4C6.5 4.800 11.5 4.600 14.5 7.600C16.3 9.400 17.2 11.800 17.700 14.2"/><path d="M3.900 14.800L8.800 9.500L12.2 12.900L18.700 5.300"/></g></svg>
<div class="a" style="left:301.00px;top:671.66px;width:1214.00px;height:1.00px;background:#393939;"></div>
<div class="t" style="top:679.56px;font-size:13.7px;line-height:19px;color:#f4f4f4;font-weight:700;left:316.40px;transform-origin:0 50%;transform:scaleX(0.9625);">PCP #07</div>
<div class="t" style="top:699.76px;font-size:13.7px;line-height:19px;color:#979797;left:316.40px;transform-origin:0 50%;transform:scaleX(0.9976);">pcp_07</div>
<div class="a" style="left:467.90px;top:688.72px;width:100.00px;height:20.40px;background:#c81804;border-radius:4.5px;"></div>
<div class="t" style="top:691.92px;font-size:10px;line-height:14px;color:#f8e6e2;font-weight:700;letter-spacing:0.567px;left:473.00px;-webkit-text-stroke:0.25px #c81804;">BAD DATA</div>
<div class="a" style="left:533.60px;top:694.52px;width:1.00px;height:7.40px;background:#f3cfc9;"></div>
<div class="t" style="top:691.92px;font-size:10px;line-height:14px;color:#f8e6e2;font-weight:700;letter-spacing:0.592px;left:540.40px;-webkit-text-stroke:0.25px #c81804;">69%</div>
<div class="t" style="top:688.62px;font-size:14.3px;line-height:20px;color:#dedede;right:855.20px;transform-origin:100% 50%;transform:scaleX(0.8414);-webkit-text-stroke:0.25px #dedede;">133.33%</div>
<div class="t" style="top:688.62px;font-size:14.3px;line-height:20px;color:#dedede;right:707.70px;-webkit-text-stroke:0.25px #dedede;">1</div>
<div class="t" style="top:688.62px;font-size:14.3px;line-height:20px;color:#dedede;right:561.10px;transform-origin:100% 50%;transform:scaleX(0.8382);-webkit-text-stroke:0.25px #dedede;">120</div>
<div class="t" style="top:688.62px;font-size:14.3px;line-height:20px;color:#5c5c5c;right:421.70px;transform-origin:100% 50%;transform:scaleX(0.8598);">N/A</div>
<div class="t" style="top:688.62px;font-size:14.3px;line-height:20px;color:#dedede;right:251.40px;-webkit-text-stroke:0.25px #dedede;">0</div>
<svg class="a" style="left:1465px;top:689.12px" width="22" height="20" viewBox="0 0 22 20"><g fill="none" stroke="#fff" stroke-width="1.8" stroke-linecap="round" stroke-linejoin="round"><path d="M3.2 7.4C6.5 4.800 11.5 4.600 14.5 7.600C16.3 9.400 17.2 11.800 17.700 14.2"/><path d="M3.900 14.800L8.800 9.500L12.2 12.900L18.700 5.300"/></g></svg>
<div class="a" style="left:301.00px;top:725.38px;width:1214.00px;height:1.00px;background:#393939;"></div>
<div class="t" style="top:733.28px;font-size:13.7px;line-height:19px;color:#f4f4f4;font-weight:700;left:316.40px;transform-origin:0 50%;transform:scaleX(0.9625);">PCP #08</div>
<div class="t" style="top:753.48px;font-size:13.7px;line-height:19px;color:#979797;left:316.40px;transform-origin:0 50%;transform:scaleX(0.9976);">pcp_08</div>
<div class="a" style="left:467.90px;top:742.44px;width:100.00px;height:20.40px;background:#c81804;border-radius:4.5px;"></div>
<div class="t" style="top:745.64px;font-size:10px;line-height:14px;color:#f8e6e2;font-weight:700;letter-spacing:0.567px;left:473.00px;-webkit-text-stroke:0.25px #c81804;">BAD DATA</div>
<div class="a" style="left:533.60px;top:748.24px;width:1.00px;height:7.40px;background:#f3cfc9;"></div>
<div class="t" style="top:745.64px;font-size:10px;line-height:14px;color:#f8e6e2;font-weight:700;letter-spacing:0.592px;left:540.40px;-webkit-text-stroke:0.25px #c81804;">69%</div>
<div class="t" style="top:742.34px;font-size:14.3px;line-height:20px;color:#dedede;right:855.20px;transform-origin:100% 50%;transform:scaleX(0.8414);-webkit-text-stroke:0.25px #dedede;">133.33%</div>
<div class="t" style="top:742.34px;font-size:14.3px;line-height:20px;color:#dedede;right:707.70px;-webkit-text-stroke:0.25px #dedede;">1</div>
<div class="t" style="top:742.34px;font-size:14.3px;line-height:20px;color:#dedede;right:561.10px;transform-origin:100% 50%;transform:scaleX(0.8382);-webkit-text-stroke:0.25px #dedede;">120</div>
<div class="t" style="top:742.34px;font-size:14.3px;line-height:20px;color:#5c5c5c;right:421.70px;transform-origin:100% 50%;transform:scaleX(0.8598);">N/A</div>
<div class="t" style="top:742.34px;font-size:14.3px;line-height:20px;color:#dedede;right:251.40px;-webkit-text-stroke:0.25px #dedede;">0</div>
<svg class="a" style="left:1465px;top:742.84px" width="22" height="20" viewBox="0 0 22 20"><g fill="none" stroke="#fff" stroke-width="1.8" stroke-linecap="round" stroke-linejoin="round"><path d="M3.2 7.4C6.5 4.800 11.5 4.600 14.5 7.600C16.3 9.400 17.2 11.800 17.700 14.2"/><path d="M3.900 14.800L8.800 9.500L12.2 12.900L18.700 5.300"/></g></svg>
<div class="a" style="left:301.00px;top:779.10px;width:1214.00px;height:1.00px;background:#393939;"></div>
<div class="t" style="top:787.00px;font-size:13.7px;line-height:19px;color:#f4f4f4;font-weight:700;left:316.40px;transform-origin:0 50%;transform:scaleX(0.9625);">PCP #09</div>
<div class="t" style="top:807.20px;font-size:13.7px;line-height:19px;color:#979797;left:316.40px;transform-origin:0 50%;transform:scaleX(0.9976);">pcp_09</div>
<div class="a" style="left:467.90px;top:796.16px;width:100.00px;height:20.40px;background:#c81804;border-radius:4.5px;"></div>
<div class="t" style="top:799.36px;font-size:10px;line-height:14px;color:#f8e6e2;font-weight:700;letter-spacing:0.567px;left:473.00px;-webkit-text-stroke:0.25px #c81804;">BAD DATA</div>
<div class="a" style="left:533.60px;top:801.96px;width:1.00px;height:7.40px;background:#f3cfc9;"></div>
<div class="t" style="top:799.36px;font-size:10px;line-height:14px;color:#f8e6e2;font-weight:700;letter-spacing:0.592px;left:540.40px;-webkit-text-stroke:0.25px #c81804;">69%</div>
<div class="t" style="top:796.06px;font-size:14.3px;line-height:20px;color:#dedede;right:855.20px;transform-origin:100% 50%;transform:scaleX(0.8414);-webkit-text-stroke:0.25px #dedede;">133.33%</div>
<div class="t" style="top:796.06px;font-size:14.3px;line-height:20px;color:#dedede;right:707.70px;-webkit-text-stroke:0.25px #dedede;">1</div>
<div class="t" style="top:796.06px;font-size:14.3px;line-height:20px;color:#dedede;right:561.10px;transform-origin:100% 50%;transform:scaleX(0.8382);-webkit-text-stroke:0.25px #dedede;">120</div>
<div class="t" style="top:796.06px;font-size:14.3px;line-height:20px;color:#5c5c5c;right:421.70px;transform-origin:100% 50%;transform:scaleX(0.8598);">N/A</div>
<div class="t" style="top:796.06px;font-size:14.3px;line-height:20px;color:#dedede;right:251.40px;-webkit-text-stroke:0.25px #dedede;">0</div>
<svg class="a" style="left:1465px;top:796.56px" width="22" height="20" viewBox="0 0 22 20"><g fill="none" stroke="#fff" stroke-width="1.8" stroke-linecap="round" stroke-linejoin="round"><path d="M3.2 7.4C6.5 4.800 11.5 4.600 14.5 7.600C16.3 9.400 17.2 11.800 17.700 14.2"/><path d="M3.900 14.800L8.800 9.500L12.2 12.900L18.700 5.300"/></g></svg>
<div class="a" style="left:301.00px;top:832.82px;width:1214.00px;height:1.00px;background:#393939;"></div>
<div class="t" style="top:840.72px;font-size:13.7px;line-height:19px;color:#f4f4f4;font-weight:700;left:316.40px;transform-origin:0 50%;transform:scaleX(0.9625);">PCP #10</div>
<div class="t" style="top:860.92px;font-size:13.7px;line-height:19px;color:#979797;left:316.40px;transform-origin:0 50%;transform:scaleX(0.9976);">pcp_10</div>
<div class="a" style="left:467.90px;top:849.88px;width:100.00px;height:20.40px;background:#c81804;border-radius:4.5px;"></div>
<div class="t" style="top:853.08px;font-size:10px;line-height:14px;color:#f8e6e2;font-weight:700;letter-spacing:0.567px;left:473.00px;-webkit-text-stroke:0.25px #c81804;">BAD DATA</div>
<div class="a" style="left:533.60px;top:855.68px;width:1.00px;height:7.40px;background:#f3cfc9;"></div>
<div class="t" style="top:853.08px;font-size:10px;line-height:14px;color:#f8e6e2;font-weight:700;letter-spacing:0.592px;left:540.40px;-webkit-text-stroke:0.25px #c81804;">69%</div>
<div class="t" style="top:849.78px;font-size:14.3px;line-height:20px;color:#dedede;right:855.20px;transform-origin:100% 50%;transform:scaleX(0.8414);-webkit-text-stroke:0.25px #dedede;">133.33%</div>
<div class="t" style="top:849.78px;font-size:14.3px;line-height:20px;color:#dedede;right:707.70px;-webkit-text-stroke:0.25px #dedede;">1</div>
<div class="t" style="top:849.78px;font-size:14.3px;line-height:20px;color:#dedede;right:561.10px;transform-origin:100% 50%;transform:scaleX(0.8382);-webkit-text-stroke:0.25px #dedede;">120</div>
<div class="t" style="top:849.78px;font-size:14.3px;line-height:20px;color:#5c5c5c;right:421.70px;transform-origin:100% 50%;transform:scaleX(0.8598);">N/A</div>
<div class="t" style="top:849.78px;font-size:14.3px;line-height:20px;color:#dedede;right:251.40px;-webkit-text-stroke:0.25px #dedede;">0</div>
<svg class="a" style="left:1465px;top:850.28px" width="22" height="20" viewBox="0 0 22 20"><g fill="none" stroke="#fff" stroke-width="1.8" stroke-linecap="round" stroke-linejoin="round"><path d="M3.2 7.4C6.5 4.800 11.5 4.600 14.5 7.600C16.3 9.400 17.2 11.800 17.700 14.2"/><path d="M3.900 14.800L8.800 9.500L12.2 12.900L18.700 5.300"/></g></svg>
<div class="a" style="left:301.00px;top:886.54px;width:1214.00px;height:1.00px;background:#393939;"></div>
<div class="t" style="top:894.44px;font-size:13.7px;line-height:19px;color:#f4f4f4;font-weight:700;left:316.40px;transform-origin:0 50%;transform:scaleX(0.9625);">PCP #03</div>
<div class="t" style="top:914.64px;font-size:13.7px;line-height:19px;color:#979797;left:316.40px;transform-origin:0 50%;transform:scaleX(0.9976);">pcp_03</div>
<div class="a" style="left:467.90px;top:903.60px;width:100.00px;height:20.40px;background:#c81804;border-radius:4.5px;"></div>
<div class="t" style="top:906.80px;font-size:10px;line-height:14px;color:#f8e6e2;font-weight:700;letter-spacing:0.567px;left:473.00px;-webkit-text-stroke:0.25px #c81804;">BAD DATA</div>
<div class="a" style="left:533.60px;top:909.40px;width:1.00px;height:7.40px;background:#f3cfc9;"></div>
<div class="t" style="top:906.80px;font-size:10px;line-height:14px;color:#f8e6e2;font-weight:700;letter-spacing:0.592px;left:540.40px;-webkit-text-stroke:0.25px #c81804;">63%</div>
<div class="t" style="top:903.50px;font-size:14.3px;line-height:20px;color:#dedede;right:855.20px;transform-origin:100% 50%;transform:scaleX(0.8202);-webkit-text-stroke:0.25px #dedede;">150%</div>
<div class="t" style="top:903.50px;font-size:14.3px;line-height:20px;color:#dedede;right:707.70px;-webkit-text-stroke:0.25px #dedede;">1</div>
<div class="t" style="top:903.50px;font-size:14.3px;line-height:20px;color:#dedede;right:561.10px;transform-origin:100% 50%;transform:scaleX(0.8382);-webkit-text-stroke:0.25px #dedede;">120</div>
<div class="t" style="top:903.50px;font-size:14.3px;line-height:20px;color:#5c5c5c;right:421.70px;transform-origin:100% 50%;transform:scaleX(0.8598);">N/A</div>
<div class="t" style="top:903.50px;font-size:14.3px;line-height:20px;color:#dedede;right:251.40px;-webkit-text-stroke:0.25px #dedede;">0</div>
<svg class="a" style="left:1465px;top:904.00px" width="22" height="20" viewBox="0 0 22 20"><g fill="none" stroke="#fff" stroke-width="1.8" stroke-linecap="round" stroke-linejoin="round"><path d="M3.2 7.4C6.5 4.800 11.5 4.600 14.5 7.600C16.3 9.400 17.2 11.800 17.700 14.2"/><path d="M3.900 14.800L8.800 9.500L12.2 12.900L18.700 5.300"/></g></svg>
<div class="a" style="left:301.00px;top:940.26px;width:1214.00px;height:1.00px;background:#393939;"></div>
<div class="t" style="top:948.16px;font-size:13.7px;line-height:19px;color:#f4f4f4;font-weight:700;left:316.40px;transform-origin:0 50%;transform:scaleX(0.9625);">PCP #01</div>
<div class="t" style="top:968.36px;font-size:13.7px;line-height:19px;color:#979797;left:316.40px;transform-origin:0 50%;transform:scaleX(0.9976);">pcp_01</div>
<div class="a" style="left:467.90px;top:957.32px;width:100.00px;height:20.40px;background:#c81804;border-radius:4.5px;"></div>
<div class="t" style="top:960.52px;font-size:10px;line-height:14px;color:#f8e6e2;font-weight:700;letter-spacing:0.567px;left:473.00px;-webkit-text-stroke:0.25px #c81804;">BAD DATA</div>
<div class="a" style="left:533.60px;top:963.12px;width:1.00px;height:7.40px;background:#f3cfc9;"></div>
<div class="t" style="top:960.52px;font-size:10px;line-height:14px;color:#f8e6e2;font-weight:700;letter-spacing:0.592px;left:540.40px;-webkit-text-stroke:0.25px #c81804;">59%</div>
<div class="t" style="top:957.22px;font-size:14.3px;line-height:20px;color:#dedede;right:855.20px;transform-origin:100% 50%;transform:scaleX(0.7629);-webkit-text-stroke:0.25px #dedede;">141.5%</div>
<div class="t" style="top:957.22px;font-size:14.3px;line-height:20px;color:#dedede;right:707.70px;-webkit-text-stroke:0.25px #dedede;">0</div>
<div class="t" style="top:957.22px;font-size:14.3px;line-height:20px;color:#dedede;right:561.10px;transform-origin:100% 50%;transform:scaleX(0.8382);-webkit-text-stroke:0.25px #dedede;">120</div>
<div class="t" style="top:957.22px;font-size:14.3px;line-height:20px;color:#5c5c5c;right:421.70px;transform-origin:100% 50%;transform:scaleX(0.8598);">N/A</div>
<div class="t" style="top:957.22px;font-size:14.3px;line-height:20px;color:#dedede;right:251.40px;-webkit-text-stroke:0.25px #dedede;">0</div>
<svg class="a" style="left:1465px;top:957.72px" width="22" height="20" viewBox="0 0 22 20"><g fill="none" stroke="#fff" stroke-width="1.8" stroke-linecap="round" stroke-linejoin="round"><path d="M3.2 7.4C6.5 4.800 11.5 4.600 14.5 7.600C16.3 9.400 17.2 11.800 17.700 14.2"/><path d="M3.900 14.800L8.800 9.500L12.2 12.900L18.700 5.300"/></g></svg>
<div class="a" style="left:301.00px;top:993.98px;width:1214.00px;height:1.00px;background:#393939;"></div>
<div class="t" style="top:1001.88px;font-size:13.7px;line-height:19px;color:#f4f4f4;font-weight:700;left:316.40px;transform-origin:0 50%;transform:scaleX(0.9625);">PCP #02</div>
<div class="t" style="top:1022.08px;font-size:13.7px;line-height:19px;color:#979797;left:316.40px;transform-origin:0 50%;transform:scaleX(0.9976);">pcp_02</div>
<div class="a" style="left:467.90px;top:1011.04px;width:100.00px;height:20.40px;background:#c81804;border-radius:4.5px;"></div>
<div class="t" style="top:1014.24px;font-size:10px;line-height:14px;color:#f8e6e2;font-weight:700;letter-spacing:0.567px;left:473.00px;-webkit-text-stroke:0.25px #c81804;">BAD DATA</div>
<div class="a" style="left:533.60px;top:1016.84px;width:1.00px;height:7.40px;background:#f3cfc9;"></div>
<div class="t" style="top:1014.24px;font-size:10px;line-height:14px;color:#f8e6e2;font-weight:700;letter-spacing:0.592px;left:540.40px;-webkit-text-stroke:0.25px #c81804;">52%</div>
<div class="t" style="top:1010.94px;font-size:14.3px;line-height:20px;color:#dedede;right:855.20px;transform-origin:100% 50%;transform:scaleX(0.7938);-webkit-text-stroke:0.25px #dedede;">48.17%</div>
<div class="t" style="top:1010.94px;font-size:14.3px;line-height:20px;color:#dedede;right:707.70px;-webkit-text-stroke:0.25px #dedede;">3</div>
<div class="t" style="top:1010.94px;font-size:14.3px;line-height:20px;color:#dedede;right:561.10px;transform-origin:100% 50%;transform:scaleX(0.8382);-webkit-text-stroke:0.25px #dedede;">190</div>
<div class="t" style="top:1010.94px;font-size:14.3px;line-height:20px;color:#5c5c5c;right:421.70px;transform-origin:100% 50%;transform:scaleX(0.8598);">N/A</div>
<div class="t" style="top:1010.94px;font-size:14.3px;line-height:20px;color:#dedede;right:251.40px;-webkit-text-stroke:0.25px #dedede;">0</div>
<svg class="a" style="left:1465px;top:1011.44px" width="22" height="20" viewBox="0 0 22 20"><g fill="none" stroke="#fff" stroke-width="1.8" stroke-linecap="round" stroke-linejoin="round"><path d="M3.2 7.4C6.5 4.800 11.5 4.600 14.5 7.600C16.3 9.400 17.2 11.800 17.700 14.2"/><path d="M3.900 14.800L8.800 9.500L12.2 12.900L18.700 5.300"/></g></svg>
<div class="a" style="left:605.20px;top:467.00px;width:1.00px;height:565.00px;background:#3b3b3b;"></div>
<div class="a" style="left:1447.00px;top:467.00px;width:1.00px;height:565.00px;background:#3b3b3b;"></div>
<div class="a" style="left:1518.50px;top:515.00px;width:6.50px;height:307.00px;background:#333;border-radius:3.2px;"></div>
</div></div>
<div class="t" style="top:1050.40px;font-size:14px;line-height:20px;color:#acacac;left:301.00px;transform-origin:0 50%;transform:scaleX(0.9477);-webkit-text-stroke:0.2px #acacac;">Show</div>
<div class="a" style="left:341.00px;top:1046.80px;width:96.00px;height:27.30px;background:#3a3a3a;border-radius:4.5px;"></div>
<div class="t" style="top:1050.65px;font-size:14px;line-height:20px;color:#a6a6a6;left:351.70px;transform-origin:0 50%;transform:scaleX(0.9070);-webkit-text-stroke:0.2px #a6a6a6;">16 items</div>
<svg class="a" style="left:413.9px;top:1058.1px" width="9" height="5" viewBox="0 0 9 5"><path d="M0.300 0.300h8.400L4.500 4.600z" fill="#d8d8d8"/></svg>
<div class="t" style="top:1050.40px;font-size:14px;line-height:20px;color:#acacac;left:444.70px;transform-origin:0 50%;transform:scaleX(0.9678);-webkit-text-stroke:0.2px #acacac;">per page</div>
<div class="t" style="top:1050.40px;font-size:14px;line-height:20px;color:#acacac;right:250.60px;transform-origin:100% 50%;transform:scaleX(0.9052);-webkit-text-stroke:0.2px #acacac;">Showing 1 to 16 items of 21</div>
<svg class="a" style="left:1353.8px;top:1053.6px" width="16" height="14" viewBox="0 0 16 14"><path d="M7.3 3.500l-3.600 3.500 3.600 3.500M12.7 3.500l-3.600 3.500 3.600 3.500" fill="none" stroke="#6a6a6a" stroke-width="1.900"/></svg>
<svg class="a" style="left:1384.6px;top:1053.6px" width="16" height="14" viewBox="0 0 16 14"><path d="M10 3.500l-3.600 3.500 3.600 3.500" fill="none" stroke="#6a6a6a" stroke-width="1.900"/></svg>
<div class="t" style="top:1051.10px;font-size:13.3px;line-height:19px;color:#fff;font-weight:700;left:1423.00px;transform:translateX(-50%);">1</div>
<div class="t" style="top:1051.10px;font-size:13.3px;line-height:19px;color:#a8a8a8;left:1454.00px;transform:translateX(-50%);">2</div>
<svg class="a" style="left:1476.6px;top:1053.6px" width="16" height="14" viewBox="0 0 16 14"><path d="M6 3.500l3.600 3.500-3.600 3.500" fill="none" stroke="#f0f0f0" stroke-width="1.900"/></svg>
<svg class="a" style="left:1507.3px;top:1053.6px" width="16" height="14" viewBox="0 0 16 14"><path d="M3.3 3.500l3.600 3.500-3.600 3.500M8.7 3.500l3.600 3.500-3.600 3.500" fill="none" stroke="#f0f0f0" stroke-width="1.900"/></svg>
</div>
<div class="ov" style="left:31px;top:22px;width:1521px;height:381px"></div>
<div class="ov" style="left:31px;top:467px;width:1521px;height:630px"></div>
<div class="ov" style="left:31px;top:403px;width:1412px;height:64px"></div>
<div class="a" style="left:1433px;top:393px;width:141px;height:84px;border:10px solid #005bcb;"></div>
<svg class="a" style="left:0;top:0" width="1584" height="1120" viewBox="0 0 1584 1120"><path d="M1093.9 644.2L1384.500 447.400" stroke="#005bcb" stroke-width="12" stroke-linecap="round" fill="none"/><path d="M1413 428.300L1363.800 435.900L1383.500 448L1386.900 471Z" fill="#005bcb" stroke="#005bcb" stroke-width="12" stroke-linejoin="round"/></svg>
</body></html>
